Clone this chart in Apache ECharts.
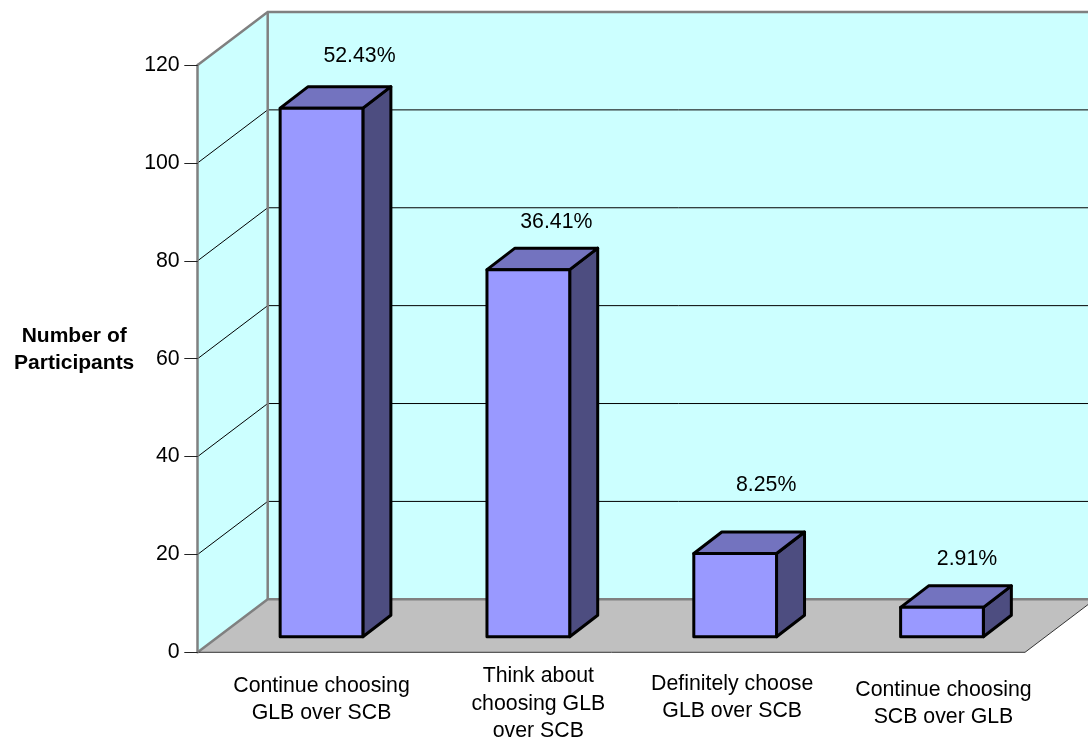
<!DOCTYPE html>
<html>
<head>
<meta charset="utf-8">
<style>html,body{margin:0;padding:0;background:#fff}#c{width:1088px;height:741px}</style>
<script src="https://cdn.jsdelivr.net/npm/echarts@6/dist/echarts.min.js"></script>
</head>
<body>
<div id="c"></div>
<script>
const categories = ['Continue choosing\nGLB over SCB', 'Think about\nchoosing GLB\nover SCB', 'Definitely choose\nGLB over SCB', 'Continue choosing\nSCB over GLB'];
const participants = [108, 75, 17, 6];
const percentLabels = ['52.43%', '36.41%', '8.25%', '2.91%'];
const yTicks = [20, 40, 60, 80, 100, 120];

// 3D projection (pixels)
const WALL_DX = 70, WALL_DY = 53, BAR_SHIFT_X = 20.4, BAR_SHIFT_Y = 15.6, BAR_DX = 28, BAR_DY = 21.5;
const FONT = '"Liberation Sans", Arial, sans-serif';
const labelPadding = [[20, 0, 0, 0], [10.5, 0, 0, 20], [18, 6, 0, 0], [24, 0, 0, 3]];
const labelNudge = [[38, -31], [28, -26], [31, -47], [25, -27]];

const chart = echarts.init(document.getElementById('c'), null, {renderer: 'canvas'});

function renderWalls(params, api) {
  const cs = params.coordSys;
  const x0 = cs.x - BAR_SHIFT_X, x1 = cs.x + cs.width - BAR_SHIFT_X;
  const y0 = api.coord([0, 0])[1], yTop = api.coord([0, 120])[1];
  const bx0 = x0 + WALL_DX, bx1 = x1 + WALL_DX, by0 = y0 - WALL_DY, byTop = yTop - WALL_DY;
  const edge = {stroke: '#808080', lineWidth: 2.5, fill: null};
  const kids = [
    {type: 'polygon', shape: {points: [[bx0, byTop], [bx1, byTop], [bx1, by0], [bx0, by0]]}, style: {fill: '#CCFFFF'}},
    {type: 'polygon', shape: {points: [[x0, yTop], [bx0, byTop], [bx0, by0], [x0, y0]]}, style: {fill: '#CCFFFF'}},
    {type: 'polygon', shape: {points: [[x0, y0], [bx0, by0], [bx1, by0], [x1, y0]]}, style: {fill: '#C0C0C0'}}
  ];
  yTicks.slice(0, -1).forEach(function (t) {
    const y = api.coord([0, t])[1];
    kids.push({type: 'polyline', shape: {points: [[x0, y], [bx0, y - WALL_DY], [bx1, y - WALL_DY]]},
      style: {stroke: '#000', lineWidth: 1, fill: null}});
  });
  kids.push({type: 'polyline', shape: {points: [[x0, yTop], [bx0, byTop], [bx1, byTop]]}, style: edge});
  kids.push({type: 'line', shape: {x1: bx0, y1: byTop, x2: bx0, y2: by0}, style: edge});
  kids.push({type: 'polyline', shape: {points: [[x0, y0], [bx0, by0], [bx1, by0]]}, style: edge});
  kids.push({type: 'polyline', shape: {points: [[x0, y0], [x1, y0], [bx1, by0]]}, style: {stroke: '#333', lineWidth: 1, fill: null}});
  return {type: 'group', children: kids};
}

function renderBar(params, api) {
  const i = api.value(0), v = api.value(1);
  const c = api.coord([i, v]), b = api.coord([i, 0]);
  const w = api.size([1, 0])[0] * 0.4;
  const l = c[0] - w / 2, r = c[0] + w / 2;
  const t = c[1] - BAR_SHIFT_Y, f = b[1] - BAR_SHIFT_Y;
  const line = {stroke: '#000', lineWidth: 3, lineJoin: 'round'};
  const n = labelNudge[params.dataIndex];
  return {type: 'group', children: [
    {type: 'polygon', shape: {points: [[r, t], [r + BAR_DX, t - BAR_DY], [r + BAR_DX, f - BAR_DY], [r, f]]},
      style: Object.assign({fill: '#4D4D80'}, line)},
    {type: 'polygon', shape: {points: [[l, t], [l + BAR_DX, t - BAR_DY], [r + BAR_DX, t - BAR_DY], [r, t]]},
      style: Object.assign({fill: '#7373BF'}, line)},
    {type: 'polygon', shape: {points: [[l, t], [r, t], [r, f], [l, f]]},
      style: Object.assign({fill: '#9999FF'}, line)},
    {type: 'text', x: c[0] + n[0], y: t - BAR_DY + n[1],
      style: {text: percentLabels[params.dataIndex], fill: '#000', font: '21.3px ' + FONT, align: 'center', verticalAlign: 'middle'}}
  ]};
}

chart.setOption({
  animation: false,
  backgroundColor: '#fff',
  grid: {left: 197.7 + BAR_SHIFT_X, right: 63 - BAR_SHIFT_X, top: 65, bottom: 88.7, containLabel: false, outerBoundsMode: 'none'},
  xAxis: {
    type: 'category',
    data: categories.map(function (c, i) { return {value: c, textStyle: {padding: labelPadding[i]}}; }),
    axisLine: {show: false},
    axisTick: {show: false},
    axisLabel: {interval: 0, margin: 0, color: '#000', fontFamily: FONT, fontSize: 21.3, lineHeight: 27.4, verticalAlign: 'top', align: 'center', hideOverlap: false}
  },
  yAxis: {
    type: 'value', min: 0, max: 120, interval: 20,
    offset: BAR_SHIFT_X, z: 10,
    name: 'Number of\nParticipants',
    nameLocation: 'middle', nameRotate: 0, nameGap: 123.5,
    nameTextStyle: {color: '#000', fontFamily: FONT, fontWeight: 'bold', fontSize: 21, lineHeight: 27.4, verticalAlign: 'bottom', padding: [0, 0, -18.5, 0], align: 'center'},
    axisLine: {show: true, lineStyle: {color: '#808080', width: 2.5}},
    axisTick: {show: true, length: 13.4, lineStyle: {color: '#222', width: 1}},
    axisLabel: {margin: 18, color: '#000', fontFamily: FONT, fontSize: 21.3},
    splitLine: {show: false}
  },
  series: [
    {type: 'custom', coordinateSystem: 'cartesian2d', z: 1, silent: true, renderItem: renderWalls, data: [[0, 0]], encode: {x: 0, y: 1}},
    {type: 'custom', coordinateSystem: 'cartesian2d', z: 3, silent: true, renderItem: renderBar,
      data: participants.map(function (v, i) { return [i, v]; }), encode: {x: 0, y: 1}}
  ]
});
</script>
</body>
</html>
